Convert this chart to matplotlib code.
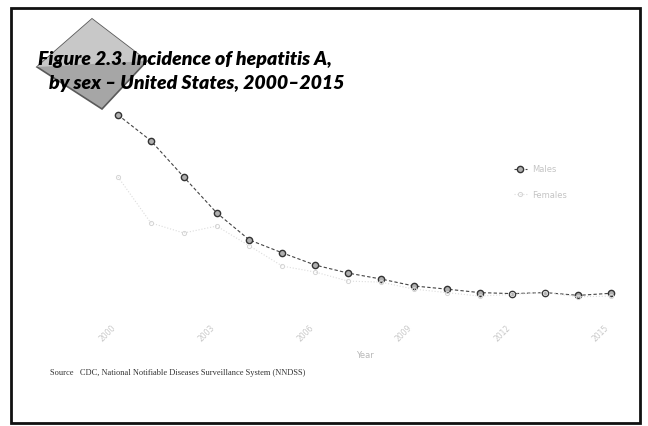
import matplotlib.pyplot as plt
from matplotlib.patches import Polygon, Rectangle

# hepatitis A incidence per 100,000, by sex
years = list(range(2000, 2016))
males = [5.6, 4.86, 3.82, 2.79, 2.01, 1.64, 1.29, 1.06, 0.89, 0.69,
         0.6, 0.5, 0.47, 0.5, 0.42, 0.48]
females = [3.82, 2.5, 2.21, 2.41, 1.84, 1.26, 1.09, 0.83, 0.8, 0.6,
           0.5, 0.4, 0.45, 0.5, 0.38, 0.4]
xticks = [2000, 2003, 2006, 2009, 2012, 2015]

W, H = 648, 427
fig = plt.figure(figsize=(W / 100, H / 100), dpi=100)


def fx(px):
    return px / W


def fy(py):
    return 1 - py / H


# outer frame
fig.patches.append(Rectangle((fx(11), fy(424)), fx(629), (424 - 9) / H,
                             transform=fig.transFigure, fill=False,
                             edgecolor='#111111', linewidth=2))

# grey diamond behind the title
fig.patches.append(Polygon([(fx(92), fy(20)), (fx(147), fy(62)),
                            (fx(102), fy(110)), (fx(37), fy(68))],
                           closed=True, transform=fig.transFigure,
                           facecolor='#a6a6a6', edgecolor='#5a5a5a',
                           linewidth=1.2))
fig.patches.append(Polygon([(fx(92), fy(20)), (fx(147), fy(62)),
                            (fx(92), fy(65)), (fx(37), fy(68))],
                           closed=True, transform=fig.transFigure,
                           facecolor='#c8c8c8', edgecolor='none'))

title_kw = dict(fontfamily='Lato', fontweight='heavy', fontstyle='italic',
                fontsize=14, color='black', va='center', ha='left')
fig.text(fx(38), fy(60), 'Figure 2.3. Incidence of hepatitis A,', **title_kw)
fig.text(fx(49), fy(83), 'by sex \u2013 United States, 2000\u20132015', **title_kw)

ax = fig.add_axes([fx(118), fy(311), fx(611) - fx(118), (311 - 102) / H])
ax.set_xlim(2000, 2015)
ax.set_ylim(0, 6)

ax.plot(years, males, color='#444444', linestyle=(0, (3, 2)), linewidth=0.8,
        marker='o', markersize=4.5, markerfacecolor='#b0b0b0',
        markeredgecolor='#333333', markeredgewidth=1.0, clip_on=False,
        label='Males')
ax.plot(years, females, color='#dcdcdc', linestyle=':', linewidth=0.8,
        marker='o', markersize=3, markerfacecolor='none',
        markeredgecolor='#d4d4d4', markeredgewidth=0.7, clip_on=False,
        label='Females')

for s in ax.spines.values():
    s.set_visible(False)
ax.set_yticks([])
ax.set_xticks(xticks)
ax.set_xticklabels([str(y) for y in xticks], rotation=45, ha='right',
                   fontsize=5.5, color='#c8c8c8')
ax.tick_params(axis='x', length=0, pad=9)
ax.set_xlabel('Year', fontsize=6, color='#b8b8b8', labelpad=5)

leg = ax.legend(loc='upper left', bbox_to_anchor=(fx(506), fy(158)),
                bbox_transform=fig.transFigure, frameon=False, fontsize=6,
                handlelength=1.6, labelspacing=2.0, handletextpad=0.6)
for t in leg.get_texts():
    t.set_color('#c4c4c4')

fig.text(fx(50), fy(373),
         'Source   CDC, National Notifiable Diseases Surveillance System (NNDSS)',
         fontfamily='Liberation Serif', fontsize=6, color='#333333',
         va='center', ha='left')

fig.savefig('out.png', dpi=100)
